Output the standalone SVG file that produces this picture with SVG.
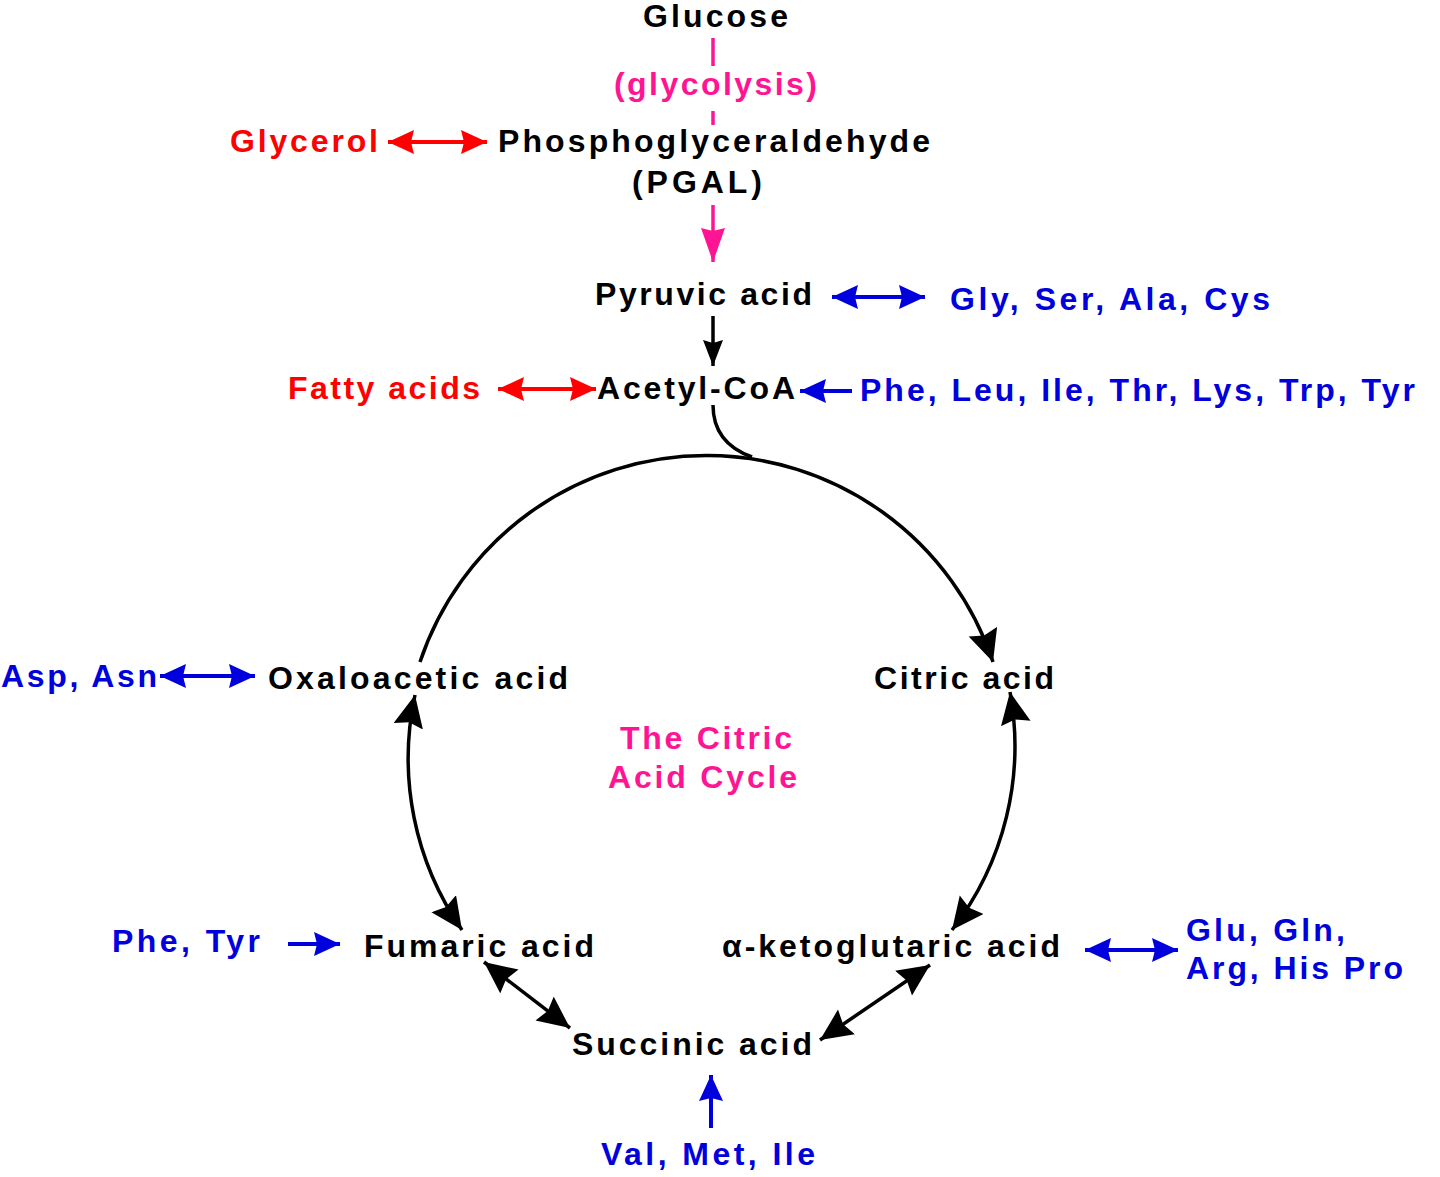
<svg xmlns="http://www.w3.org/2000/svg" width="1440" height="1177" viewBox="0 0 1440 1177">
<style>
text{font-family:"Liberation Sans",Arial,sans-serif;font-weight:bold;font-size:32px;}
.k{fill:#000}
.r{fill:#ff0000}
.b{fill:#0000dd}
.p{fill:#ff1493}
.lk{stroke:#000;stroke-width:3.5;fill:none}
.lr{stroke:#ff0000;stroke-width:4;fill:none}
.lb{stroke:#0000dd;stroke-width:4;fill:none}
.lp{stroke:#ff1493;stroke-width:3.5;fill:none}
</style>
<defs>
<marker id="hk" markerUnits="userSpaceOnUse" markerWidth="34" markerHeight="32" refX="32" refY="15" orient="auto-start-reverse"><path d="M0,0 L32,15 L0,30 L4,15 z" fill="#000"/></marker>
<marker id="hks" markerUnits="userSpaceOnUse" markerWidth="28" markerHeight="22" refX="26" refY="10" orient="auto-start-reverse"><path d="M0,0 L26,10 L0,20 L3,10 z" fill="#000"/></marker>
<marker id="hb" markerUnits="userSpaceOnUse" markerWidth="28" markerHeight="26" refX="26" refY="12" orient="auto-start-reverse"><path d="M0,0 L26,12 L0,24 L3,12 z" fill="#0000dd"/></marker>
<marker id="hr" markerUnits="userSpaceOnUse" markerWidth="28" markerHeight="26" refX="26" refY="12" orient="auto-start-reverse"><path d="M0,0 L26,12 L0,24 L3,12 z" fill="#ff0000"/></marker>
<marker id="hp" markerUnits="userSpaceOnUse" markerWidth="36" markerHeight="26" refX="34" refY="12" orient="auto-start-reverse"><path d="M0,0 L34,12 L0,24 L3,12 z" fill="#ff1493"/></marker>
</defs>
<rect width="1440" height="1177" fill="#fff"/>
<g id="connectors">
<path class="lp" d="M713,38 V66 M713,111 V125"/>
<path class="lp" d="M713,205 V262" marker-end="url(#hp)"/>
<path class="lr" d="M388,142 H487" marker-start="url(#hr)" marker-end="url(#hr)"/>
<path class="lb" d="M832,297 H925" marker-start="url(#hb)" marker-end="url(#hb)"/>
<path class="lk" d="M713,316 V366" marker-end="url(#hks)"/>
<path class="lr" d="M498,389 H596" marker-start="url(#hr)" marker-end="url(#hr)"/>
<path class="lb" d="M852,391 H800" marker-end="url(#hb)"/>
<path class="lk" d="M713,405 C713,440 738,452 752,457"/>
<path class="lk" d="M420,662 A302,302 0 0 1 993,662" marker-end="url(#hk)"/>
<path class="lk" d="M1010,692 A300,300 0 0 1 952,930" marker-start="url(#hk)" marker-end="url(#hk)"/>
<path class="lk" d="M415,695 A300,300 0 0 0 462,930" marker-start="url(#hk)" marker-end="url(#hk)"/>
<path class="lk" d="M484,962 L570,1028" marker-start="url(#hk)" marker-end="url(#hk)"/>
<path class="lk" d="M930,965 L820,1040" marker-start="url(#hk)" marker-end="url(#hk)"/>
<path class="lb" d="M160,676 H255" marker-start="url(#hb)" marker-end="url(#hb)"/>
<path class="lb" d="M288,944 H340" marker-end="url(#hb)"/>
<path class="lb" d="M1085,950 H1178" marker-start="url(#hb)" marker-end="url(#hb)"/>
<path class="lb" d="M711,1128 V1075" marker-end="url(#hb)"/>
</g>
<g id="glucose"><text class="k" x="643" y="27" textLength="145" lengthAdjust="spacing">Glucose</text></g>
<g id="glycolysis"><text class="p" x="614" y="95" textLength="203" lengthAdjust="spacing">(glycolysis)</text></g>
<g id="glycerol"><text class="r" x="230" y="152" textLength="148" lengthAdjust="spacing">Glycerol</text></g>
<g id="pgal"><text class="k" x="498" y="152" textLength="432" lengthAdjust="spacing">Phosphoglyceraldehyde</text><text class="k" x="632" y="193" textLength="130" lengthAdjust="spacing">(PGAL)</text></g>
<g id="pyruvic"><text class="k" x="595" y="305" textLength="217" lengthAdjust="spacing">Pyruvic acid</text></g>
<g id="gly"><text class="b" x="950" y="310" textLength="320" lengthAdjust="spacing">Gly, Ser, Ala, Cys</text></g>
<g id="fatty"><text class="r" x="288" y="399" textLength="192" lengthAdjust="spacing">Fatty acids</text></g>
<g id="acetyl"><text class="k" x="597" y="399" textLength="198" lengthAdjust="spacing">Acetyl-CoA</text></g>
<g id="phe-leu"><text class="b" x="860" y="401" textLength="555" lengthAdjust="spacing">Phe, Leu, Ile, Thr, Lys, Trp, Tyr</text></g>
<g id="asp"><text class="b" x="1" y="687" textLength="156" lengthAdjust="spacing">Asp, Asn</text></g>
<g id="oxaloacetic"><text class="k" x="268" y="689" textLength="300" lengthAdjust="spacing">Oxaloacetic acid</text></g>
<g id="citric"><text class="k" x="874" y="689" textLength="180" lengthAdjust="spacing">Citric acid</text></g>
<g id="title"><text class="p" x="620" y="749" textLength="172" lengthAdjust="spacing">The Citric</text><text class="p" x="608" y="788" textLength="189" lengthAdjust="spacing">Acid Cycle</text></g>
<g id="phe-tyr"><text class="b" x="112" y="952" textLength="148" lengthAdjust="spacing">Phe, Tyr</text></g>
<g id="fumaric"><text class="k" x="364" y="957" textLength="230" lengthAdjust="spacing">Fumaric acid</text></g>
<g id="ketoglutaric"><text class="k" x="722" y="957" textLength="338" lengthAdjust="spacing">α-ketoglutaric acid</text></g>
<g id="glu"><text class="b" x="1186" y="941" textLength="159" lengthAdjust="spacing">Glu, Gln,</text><text class="b" x="1186" y="979" textLength="217" lengthAdjust="spacing">Arg, His Pro</text></g>
<g id="succinic"><text class="k" x="572" y="1055" textLength="240" lengthAdjust="spacing">Succinic acid</text></g>
<g id="val"><text class="b" x="601" y="1165" textLength="214" lengthAdjust="spacing">Val, Met, Ile</text></g>
</svg>
